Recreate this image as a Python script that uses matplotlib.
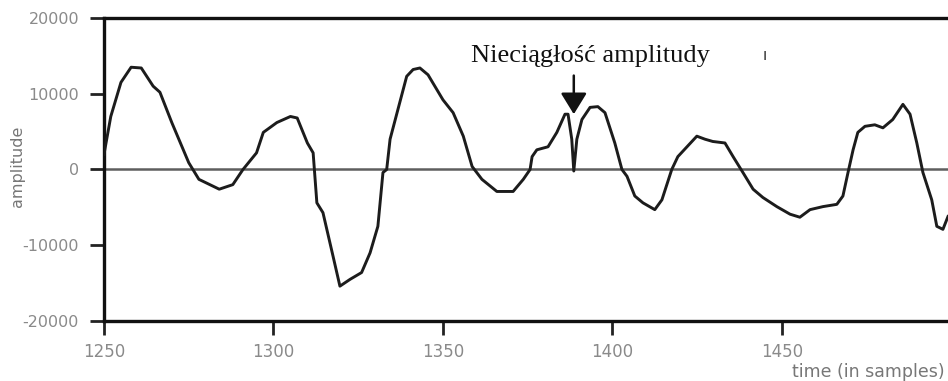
import matplotlib
matplotlib.use("Agg")
import matplotlib.pyplot as plt
import numpy as np

# Signal excerpt (sample index, amplitude)
samples = [1250, 1252, 1255, 1258, 1261, 1264.5, 1266.5, 1270, 1275, 1278, 1284, 1288,
           1291, 1295, 1297, 1301, 1305, 1307, 1310, 1311.7, 1312.8, 1314.6, 1317.6,
           1319.6, 1322.6, 1326, 1328.5, 1330.8, 1332.3, 1333.4, 1334.4, 1336.7, 1339.3,
           1341.2, 1343.2, 1345.6, 1350, 1353, 1356, 1358.6, 1361.5, 1365.9, 1370.7,
           1373.7, 1375.7, 1376.3, 1377.7, 1381, 1383.6, 1386, 1386.9, 1388, 1388.6,
           1389.5, 1391, 1393.4, 1395.7, 1397.8, 1400.7, 1402.8, 1404.3, 1406.6, 1409,
           1412.5, 1414.6, 1417.5, 1419.3, 1422, 1424.9, 1427.3, 1429.6, 1433.2, 1435.6,
           1438.5, 1441.5, 1444.4, 1448.5, 1452.4, 1455.3, 1458.3, 1462.1, 1466.2, 1468,
           1469.5, 1471, 1472.4, 1474.5, 1477.4, 1479.8, 1482.7, 1485.7, 1487.8, 1489.8,
           1491.6, 1494.2, 1495.7, 1497.5, 1499]
amplitude = [2000, 7000, 11500, 13500, 13400, 11000, 10200, 6200, 900, -1300, -2600, -2000,
             0, 2200, 4900, 6200, 7000, 6800, 3500, 2200, -4400, -5700, -11500,
             -15400, -14500, -13600, -11000, -7500, -400, 0, 4000, 7900, 12300,
             13200, 13400, 12500, 9200, 7500, 4400, 400, -1300, -2900, -2900,
             -1300, 0, 1700, 2600, 3000, 4900, 7300, 7300, 4000, -200,
             4000, 6600, 8200, 8300, 7500, 3500, 0, -900, -3500, -4400,
             -5300, -4000, 0, 1700, 3000, 4400, 4000, 3700, 3500, 1700,
             -400, -2600, -3700, -4900, -5900, -6300, -5300, -4900, -4600, -3500,
             -400, 2600, 4900, 5700, 5900, 5500, 6600, 8600, 7300, 3500,
             -400, -4000, -7500, -7900, -6200]

# Reference (residual) trace along zero
residual_x = [1250, 1499]
residual_y = [0, 0]

x_ticks = [1250, 1300, 1350, 1400, 1450]
y_ticks = [-20000, -10000, 0, 10000, 20000]
y_tick_labels = ["-20000", "-10000", "0", "10000", "20000"]

# Discontinuity marker
jump_x = 1388.6
jump_tip = 7300
jump_tail = 12400
note_text = "Nieciągłość amplitudy"

fig = plt.figure(figsize=(9.48, 3.81), dpi=100)
ax = fig.add_axes([104 / 948, 1 - 321 / 381, 1 - 104 / 948, (321 - 18) / 381])

ax.plot(residual_x, residual_y, color="#5e5e5e", lw=1.8, zorder=2)
ax.plot(samples, amplitude, color="#1c1c1c", lw=2.1, zorder=3)

ax.set_xlim(1250, 1499)
ax.set_ylim(-20000, 20000)
ax.set_xticks(x_ticks)
ax.set_xticklabels([str(t) for t in x_ticks])
ax.set_yticks(y_ticks)
ax.set_yticklabels(y_tick_labels)

ax.spines["right"].set_visible(False)
for side in ("left", "top", "bottom"):
    ax.spines[side].set_linewidth(2.4)
    ax.spines[side].set_color("#111111")

ax.tick_params(axis="both", direction="out", length=10, width=2.0, color="#222222",
               labelcolor="#8a8a8a", labelsize=12, pad=6)
ax.tick_params(axis="y", pad=8, labelsize=11.5)

fig.text(18 / 948, 1 - 166 / 381, "amplitude", fontsize=11.5, color="#777777",
         rotation=90, ha="center", va="center")
fig.text(792 / 948, 1 - 372 / 381, "time (in samples)", fontsize=12.5, color="#777777",
         ha="left", va="center")

ax.annotate("", xy=(jump_x, jump_tip), xytext=(jump_x, jump_tail),
            arrowprops=dict(arrowstyle="-|>,head_length=1.3,head_width=0.8",
                            color="#111111", lw=1.8, shrinkA=0, shrinkB=0), zorder=4)
ax.text(1393.4, 15000, note_text, family="Liberation Serif", fontsize=19,
        color="#111111", ha="center", va="center")
ax.text(1445, 15000, "ı", fontsize=11, color="#333333", ha="center", va="center")

fig.savefig("out.png", dpi=100, facecolor="white")
